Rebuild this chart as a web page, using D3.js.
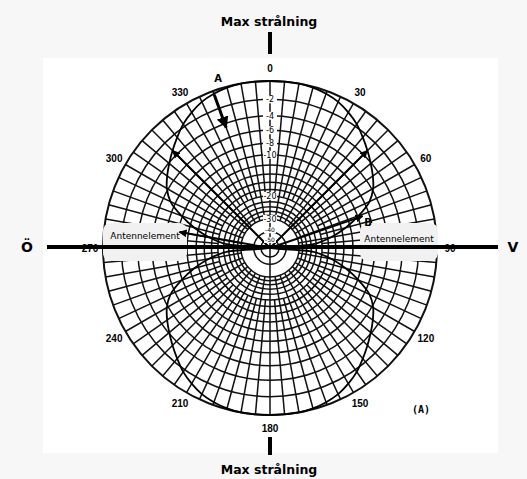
<!DOCTYPE html>
<html lang="sv">
<head>
<meta charset="UTF-8">
<title>Strålningsdiagram</title>
<script src="https://cdn.jsdelivr.net/npm/d3@7"></script>
<style>
	body { margin: 0; background: #f7f7f7; }
	text { font-family: "DejaVu Sans", sans-serif; }
</style>
</head>
<body>
<svg></svg>
<script>
	// degree labels round the edge
	var degreeTicks = [0, 30, 60, 90, 120, 150, 180, 210, 240, 270, 300, 330];
	// grid rings in dB (ARRL log-periodic scale)
	var dbRings = [0, -2, -4, -6, -8, -10, -12, -14, -16, -18, -20, -22, -24, -26, -28, -30, -40, -50];
	var dbLabels = [-2, -4, -6, -8, -10, -20, -30, -40, -50];
	// pattern: angle from max direction -> relative dB
	var patternAngles = [0, 5, 10, 15, 20, 25, 30, 35, 40, 45, 50, 55, 60, 65, 70, 75, 80, 85, 90];
	var patternDb = [0, 0, 0, -0.1, -0.3, -0.6, -1.1, -1.7, -2.5, -3.3, -4.1, -4.9, -5.8, -7.2, -9.8, -13, -17, -23, -99];

	var width = 527, height = 479;
	var cx = 270, cy = 248, R = 167;

	var svg = d3.select('svg')
		.attr('width', width)
		.attr('height', height);

	svg.append('rect')
		.attr('width', width).attr('height', height)
		.attr('fill', '#f7f7f7');
	svg.append('rect')
		.attr('x', 43).attr('y', 58)
		.attr('width', 455).attr('height', 395)
		.attr('fill', '#fff');

	// power ratio -> radius, 0.89 per 2 dB
	var rScale = d3.scalePow()
		.exponent(0.253)
		.domain([0, 1])
		.range([0, R]);
	function r(db) {
		return rScale(Math.pow(10, db / 10));
	}
	function px(a, rad) { return cx + rad * Math.sin(a * Math.PI / 180); }
	function py(a, rad) { return cy - rad * Math.cos(a * Math.PI / 180); }

	var g = svg.append('g');

	// radial lines
	var spokes = d3.range(0, 360, 5);
	g.selectAll('.spoke')
		.data(spokes)
		.enter()
		.append('line')
		.attr('class', 'spoke')
		.attr('x1', function (a) { return px(a, a % 180 == 0 ? 0 : r(a % 10 == 0 ? -30 : -20)); })
		.attr('y1', function (a) { return py(a, a % 180 == 0 ? 0 : r(a % 10 == 0 ? -30 : -20)); })
		.attr('x2', function (a) { return px(a, R); })
		.attr('y2', function (a) { return py(a, R); })
		.attr('stroke', '#111')
		.attr('stroke-width', 1.5);

	// white hole in the middle
	g.append('circle')
		.attr('cx', cx).attr('cy', cy)
		.attr('r', r(-30) - 1)
		.attr('fill', '#fff');
	g.append('line')
		.attr('x1', cx).attr('y1', cy - r(-30))
		.attr('x2', cx).attr('y2', cy + r(-30))
		.attr('stroke', '#111')
		.attr('stroke-width', 1.5);

	g.selectAll('.ring')
		.data(dbRings)
		.enter()
		.append('circle')
		.attr('class', 'ring')
		.attr('cx', cx).attr('cy', cy)
		.attr('r', function (d) { return r(d); })
		.attr('fill', 'none')
		.attr('stroke', '#111')
		.attr('stroke-width', function (d) { return d == 0 ? 2 : 1.5; });

	// Antennelement boxes
	var boxes = [{x: 103, y: 223, w: 84, h: 38, tx: 145, ty: 239}, {x: 360, y: 223, w: 78, h: 38, tx: 399, ty: 242}];
	svg.selectAll('.box')
		.data(boxes)
		.enter()
		.append('rect')
		.attr('x', function (d) { return d.x; })
		.attr('y', function (d) { return d.y; })
		.attr('width', function (d) { return d.w; })
		.attr('height', function (d) { return d.h; })
		.attr('rx', 8)
		.attr('fill', '#f1f1f1');
	svg.selectAll('.boxtext')
		.data(boxes)
		.enter()
		.append('text')
		.attr('x', function (d) { return d.tx; })
		.attr('y', function (d) { return d.ty; })
		.attr('text-anchor', 'middle')
		.style('font-size', '9px')
		.text('Antennelement');

	// pattern
	var pts = d3.range(0, 360, 5).map(function (a) {
		var off = Math.min(a % 180, 180 - a % 180);
		var i = patternAngles.indexOf(off);
		return {a: a, db: patternDb[i]};
	});
	var lobe = d3.lineRadial()
		.angle(function (d) { return d.a * Math.PI / 180; })
		.radius(function (d) { return r(d.db); })
		.curve(d3.curveCatmullRomClosed);
	svg.append('path')
		.datum(pts)
		.attr('transform', 'translate(' + cx + ',' + cy + ')')
		.attr('fill', 'none')
		.attr('stroke', '#000')
		.attr('stroke-width', 1.8)
		.attr('d', lobe);

	// arrows
	svg.append('defs').append('marker')
		.attr('id', 'head')
		.attr('viewBox', '0 0 10 10')
		.attr('refX', 9).attr('refY', 5)
		.attr('markerWidth', 4).attr('markerHeight', 4)
		.attr('orient', 'auto')
		.append('path')
		.attr('d', 'M0,0L10,5L0,10z')
		.attr('fill', '#000');
	var arrows = [
		{a: 315, r0: 0, r1: r(-3.3), w: 2},
		{a: 45, r0: 0, r1: r(-3.3), w: 2},
		{a: 71, r0: 0, r1: 98, w: 2},
		{a: 280, r0: 0, r1: 92, w: 2},
		{a: 340, r0: R - 4, r1: 128, w: 3}
	];
	svg.selectAll('.arrow')
		.data(arrows)
		.enter()
		.append('line')
		.attr('x1', function (d) { return px(d.a, d.r0); })
		.attr('y1', function (d) { return py(d.a, d.r0); })
		.attr('x2', function (d) { return px(d.a, d.r1); })
		.attr('y2', function (d) { return py(d.a, d.r1); })
		.attr('stroke', '#000')
		.attr('stroke-width', function (d) { return d.w; })
		.attr('marker-end', 'url(#head)');

	// dB labels on the 0 line
	var lab = svg.selectAll('.dbl')
		.data(dbLabels)
		.enter()
		.append('g')
		.attr('transform', function (d) {
			var yy = cy - r(d) + (d == -40 ? -1.5 : d == -50 ? 1 : 0);
			return 'translate(' + cx + ',' + yy + ')';
		});
	lab.append('rect')
		.attr('x', function (d) { return d <= -40 ? -6 : -7; })
		.attr('y', function (d) { return d <= -40 ? -3 : -4; })
		.attr('width', function (d) { return d <= -40 ? 12 : 14; })
		.attr('height', function (d) { return d <= -40 ? 6 : 8; })
		.attr('fill', '#fff');
	lab.append('text')
		.attr('text-anchor', 'middle')
		.attr('dy', '0.35em')
		.style('font-size', function (d) { return d <= -40 ? '6px' : '8px'; })
		.text(function (d) { return d; });

	// degree labels
	svg.selectAll('.deg')
		.data(degreeTicks)
		.enter()
		.append('text')
		.attr('x', function (d) { return px(d, 180); })
		.attr('y', function (d) { return py(d, 180); })
		.attr('dy', '0.35em')
		.attr('text-anchor', 'middle')
		.style('font-family', 'Liberation Sans, sans-serif')
		.style('font-size', '10px')
		.style('font-weight', 'bold')
		.text(function (d) { return d; });

	// antenna axis and max marks
	svg.append('line')
		.attr('x1', 47).attr('y1', 247).attr('x2', 498).attr('y2', 247)
		.attr('stroke', '#000').attr('stroke-width', 4);
	svg.append('rect').attr('x', 268).attr('y', 32).attr('width', 4).attr('height', 22).attr('fill', '#000');
	svg.append('rect').attr('x', 268).attr('y', 437).attr('width', 4).attr('height', 18).attr('fill', '#000');

	svg.append('text').attr('x', 269).attr('y', 26).attr('text-anchor', 'middle')
		.style('font-size', '12.5px').style('font-weight', 'bold').text('Max strålning');
	svg.append('text').attr('x', 269).attr('y', 474).attr('text-anchor', 'middle')
		.style('font-size', '12.5px').style('font-weight', 'bold').text('Max strålning');
	svg.append('text').attr('x', 27).attr('y', 252).attr('text-anchor', 'middle')
		.style('font-size', '14px').style('font-weight', 'bold').text('Ö');
	svg.append('text').attr('x', 513).attr('y', 252).attr('text-anchor', 'middle')
		.style('font-size', '14px').style('font-weight', 'bold').text('V');

	svg.append('text').attr('x', 218).attr('y', 82).attr('text-anchor', 'middle')
		.style('font-size', '10px').style('font-weight', 'bold').text('A');
	svg.append('text').attr('x', 368).attr('y', 226).attr('text-anchor', 'middle')
		.style('font-size', '10px').style('font-weight', 'bold').text('B');
	svg.append('text').attr('x', 421).attr('y', 413).attr('text-anchor', 'middle')
		.style('font-family', 'DejaVu Sans Mono, monospace')
		.style('font-size', '10px').style('font-weight', 'bold').text('(A)');
</script>
</body>
</html>
